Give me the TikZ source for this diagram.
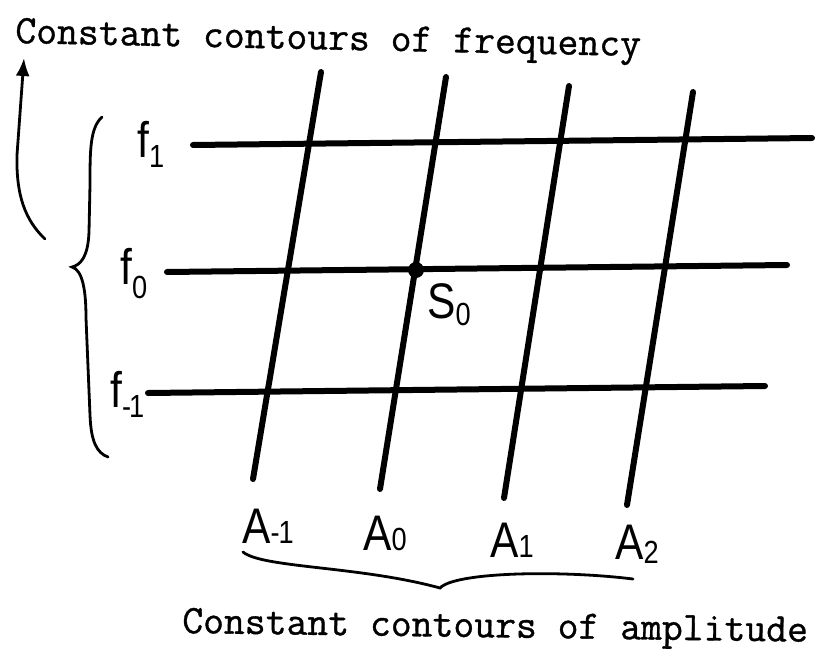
\documentclass[tikz,border=0pt]{standalone}
\usepackage{fontspec}
\usetikzlibrary{arrows.meta}
\newfontfamily\plotfont[FakeStretch=0.85]{Liberation Sans}
\newfontfamily\capfont[AutoFakeBold=0.9]{Latin Modern Mono}
% index for the sans labels, optionally dropped below the baseline
\newcommand{\idx}[2][0pt]{\raisebox{-#1}{\fontsize{32}{32}\selectfont #2}}
\tikzset{
  contour/.style={line width=6pt, line cap=round},
  bracket/.style={line width=2.8pt, line cap=round},
  caption/.style={inner sep=0pt, anchor=base west, font=\fontsize{40.5}{40}\selectfont\capfont\bfseries},
  sflabel/.style={inner sep=0pt, anchor=base west, font=\fontsize{50}{50}\selectfont\plotfont}
}
\begin{document}
\begin{tikzpicture}[x=1pt,y=-1pt]
\useasboundingbox (0,0) rectangle (820,653);
% contours of frequency
\foreach \n/\xa/\ya/\xb/\yb in {1/193/145/812/138, 0/167/272/787/265, m/148/393/765/386}{
  \coordinate (f\n w) at (\xa,\ya);
  \coordinate (f\n e) at (\xb,\yb);
  \draw[contour] (f\n w) -- (f\n e);
}
% contours of amplitude
\foreach \n/\xa/\ya/\xb/\yb in {m/321/72/253/479, 0/446/77/380/489, 1/569/86/504/498, 2/693/92/627/505}{
  \coordinate (A\n t) at (\xa,\ya);
  \coordinate (A\n b) at (\xb,\yb);
  \draw[contour] (A\n t) -- (A\n b);
}
\coordinate (S0) at (416,270);
\fill (S0) circle (8);
\node[sflabel] (labS0) at (427,318) {S\idx[7pt]{0}};
\node[sflabel] (labf1) at (137,157) {f\idx[10pt]{1}};
\node[sflabel] (labf0) at (120,284) {f\idx[14pt]{0}};
\node[sflabel] (labfm) at (110,407) {f\idx[10pt]{-\kern-2pt1}};
\node[sflabel] (labAm) at (242,543) {A\idx{-\kern-1pt1}};
\node[sflabel] (labA0) at (363,550) {A\idx{0}};
\node[sflabel] (labA1) at (490,557) {A\idx{1}};
\node[sflabel] (labA2) at (615,559) {A\idx[4pt]{2}};
% braces
\draw[bracket] (102,117) .. controls (90,128) and (90,150) .. (90,185) -- (89,232)
  .. controls (88,258) and (80,265) .. (72,267) .. controls (82,270) and (86,288) .. (86,318)
  -- (90,415) .. controls (91,442) and (97,453) .. (108,457);
\draw[bracket] (243,552) .. controls (262,568) and (360,566) .. (440,588)
  .. controls (455,572) and (560,570) .. (633,579);
\draw[bracket, -{Latex[length=18pt,width=14pt]}] (45,239) .. controls (25,220) and (16,195) .. (17,155) -- (24,58);
% captions
\node[caption, rotate=-1.2] (capf) at (15,43) {Constant contours of frequency};
\node[caption, rotate=-0.8] (capA) at (182,633) {Constant contours of amplitude};
\end{tikzpicture}
\end{document}
